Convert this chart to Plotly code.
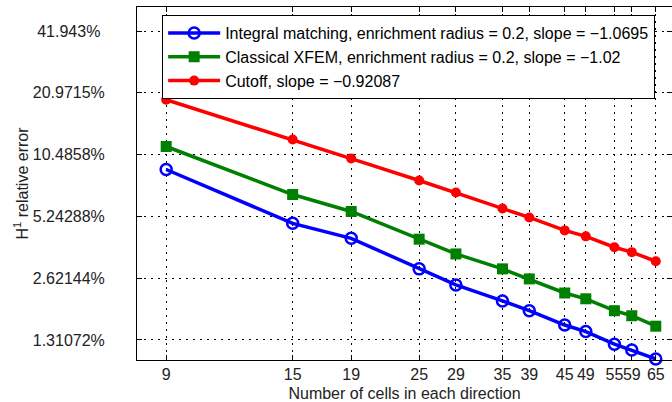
import numpy as np
import plotly.graph_objects as go

# Mesh sizes (number of cells in each direction)
cells = [9, 15, 19, 25, 29, 35, 39, 45, 49, 55, 59, 65]

# H1 relative error, in percent
err_integral = [8.87, 4.85, 4.10, 2.91, 2.43, 2.03, 1.82, 1.55, 1.44, 1.25, 1.17, 1.06]
err_xfem = [11.48, 6.70, 5.54, 4.06, 3.44, 2.91, 2.60, 2.22, 2.08, 1.82, 1.72, 1.53]
err_cutoff = [19.40, 12.41, 10.03, 7.84, 6.85, 5.73, 5.18, 4.48, 4.19, 3.71, 3.51, 3.17]

# Y tick positions (powers of two) and their labels
y_ticks = [1.31072, 2.62144, 5.24288, 10.4858, 20.9715, 41.943]
y_ticktext = ["1.31072%", "2.62144%", "5.24288%", "10.4858%", "20.9715%", "41.943%\u00a0"]

names = [
    "Integral matching, enrichment radius = 0.2, slope = \u22121.0695",
    "Classical XFEM, enrichment radius = 0.2, slope = \u22121.02",
    "Cutoff, slope = \u22120.92087",
]

FONT = "Liberation Sans, Arial, sans-serif"
GRID_DASH = "1.5px,5.5px"

fig = go.Figure()
fig.add_trace(go.Scatter(
    x=cells, y=err_integral, name=names[0], mode="lines+markers",
    line=dict(color="#0000ff", width=3.5),
    marker=dict(symbol="circle-open", size=11, color="#0000ff", line=dict(width=2.5)),
    cliponaxis=False,
))
fig.add_trace(go.Scatter(
    x=cells, y=err_xfem, name=names[1], mode="lines+markers",
    line=dict(color="#008000", width=3.5),
    marker=dict(symbol="square", size=11, color="#008000"),
    cliponaxis=False,
))
fig.add_trace(go.Scatter(
    x=cells, y=err_cutoff, name=names[2], mode="lines+markers",
    line=dict(color="#ff0000", width=3.5),
    marker=dict(symbol="circle", size=10, color="#ff0000"),
    cliponaxis=False,
))

fig.update_xaxes(
    type="log",
    range=[np.log10(8.0), np.log10(69.4)],
    tickvals=cells, ticktext=[str(c) for c in cells],
    tickangle=0,
    ticks="inside", ticklen=5, tickcolor="black",
    showline=True, linecolor="black", linewidth=1, mirror="allticks",
    showgrid=True, gridcolor="black", gridwidth=1, griddash=GRID_DASH,
    zeroline=False,
    tickfont=dict(family=FONT, size=16, color="#222"),
    ticklabelstandoff=0,
    title=dict(text="Number of cells in each direction",
               font=dict(family=FONT, size=16, color="#222"), standoff=6),
)
fig.update_yaxes(
    type="log",
    range=[np.log10(1.047), np.log10(54.9)],
    tickvals=y_ticks, ticktext=y_ticktext,
    ticks="inside", ticklen=5, tickcolor="black",
    showline=True, linecolor="black", linewidth=1, mirror="allticks",
    showgrid=True, gridcolor="black", gridwidth=1, griddash=GRID_DASH,
    zeroline=False,
    tickfont=dict(family=FONT, size=16, color="#222"),
    ticklabelstandoff=28,
    title=dict(text="H<sup>1</sup> relative error",
               font=dict(family=FONT, size=16, color="#222"), standoff=0),
)

fig.update_layout(
    width=672, height=402,
    margin=dict(l=137, r=0, t=7, b=42),
    paper_bgcolor="white", plot_bgcolor="white",
    showlegend=True,
    legend=dict(
        x=0.047, y=0.977, xanchor="left", yanchor="top",
        bgcolor="white", bordercolor="black", borderwidth=1,
        font=dict(family=FONT, size=16, color="black"),
        tracegroupgap=0, itemwidth=52,
    ),
)

fig.write_html("out.html")
